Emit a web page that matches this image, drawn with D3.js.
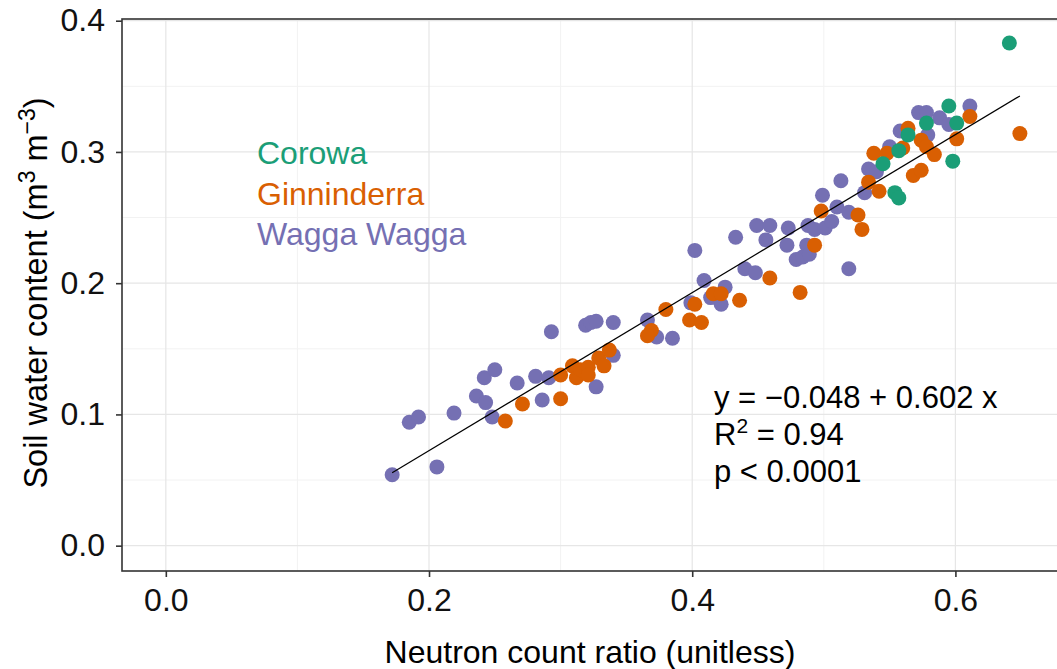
<!DOCTYPE html>
<html>
<head>
<meta charset="utf-8">
<script src="https://cdn.jsdelivr.net/npm/d3@7"></script>
<style>
  html, body { margin: 0; padding: 0; background: #ffffff; }
  svg text { font-family: "Liberation Sans", Arial, sans-serif; }
</style>
</head>
<body>
<svg id="chart" width="1057" height="669"></svg>
<script>
// ---- data (x = neutron count ratio, y = soil water content) ----
const wagga = [
  [0.172,0.054],[0.185,0.094],[0.192,0.098],[0.206,0.060],[0.219,0.101],[0.236,0.114],
  [0.243,0.109],[0.242,0.128],[0.250,0.134],[0.248,0.098],[0.267,0.124],[0.281,0.129],
  [0.291,0.128],[0.286,0.111],[0.293,0.163],[0.319,0.168],[0.323,0.170],[0.327,0.171],
  [0.340,0.170],[0.340,0.145],[0.327,0.121],
  [0.402,0.225],[0.433,0.235],[0.449,0.244],[0.459,0.244],[0.456,0.233],[0.440,0.211],
  [0.448,0.208],[0.409,0.202],[0.425,0.197],[0.414,0.189],[0.422,0.184],[0.399,0.185],
  [0.366,0.172],[0.373,0.159],[0.385,0.158],
  [0.513,0.278],[0.499,0.267],[0.510,0.258],[0.519,0.254],[0.531,0.269],[0.534,0.287],
  [0.473,0.242],[0.488,0.244],[0.493,0.241],[0.501,0.242],[0.506,0.247],[0.472,0.229],
  [0.487,0.229],[0.479,0.218],[0.484,0.220],[0.489,0.222],[0.519,0.211],
  [0.572,0.330],[0.578,0.330],[0.588,0.326],[0.595,0.321],[0.611,0.335],[0.558,0.316],
  [0.579,0.313],[0.550,0.304],[0.540,0.285]
];
const ginninderra = [
  [0.258,0.095],[0.271,0.108],[0.300,0.112],[0.300,0.130],[0.309,0.137],[0.312,0.128],
  [0.315,0.134],[0.321,0.136],[0.321,0.130],[0.329,0.143],[0.333,0.137],[0.337,0.149],
  [0.416,0.192],[0.422,0.192],[0.402,0.184],[0.380,0.180],[0.398,0.172],[0.407,0.170],
  [0.436,0.187],[0.459,0.204],[0.369,0.164],[0.366,0.160],
  [0.498,0.255],[0.526,0.252],[0.529,0.241],[0.493,0.229],[0.482,0.193],[0.534,0.277],
  [0.542,0.270],[0.538,0.299],[0.548,0.299],
  [0.611,0.327],[0.564,0.318],[0.574,0.309],[0.578,0.304],[0.584,0.298],[0.601,0.310],
  [0.560,0.303],[0.568,0.282],[0.574,0.286],[0.649,0.314]
];
const corowa = [
  [0.641,0.383],[0.545,0.291],[0.554,0.269],[0.557,0.265],[0.595,0.335],[0.578,0.322],
  [0.601,0.322],[0.564,0.313],[0.557,0.301],[0.598,0.293]
];
const siteNames = ["Corowa", "Ginninderra", "Wagga Wagga"];
const siteColors = ["#1b9e77", "#d95f02", "#7570b3"];
const fitIntercept = -0.048;
const fitSlope = 0.602;
const annotationLines = ["y = \u22120.048 + 0.602 x", "R2 = 0.94", "p < 0.0001"];
const xTicks = [0.0, 0.2, 0.4, 0.6];
const xMinor = [0.1, 0.3, 0.5];
const yTicks = [0.0, 0.1, 0.2, 0.3, 0.4];
const yMinor = [0.05, 0.15, 0.25, 0.35];

// ---- layout ----
const svg = d3.select("#chart");
const L = 122, T = 19, B = 571, R = 1062;
const x = d3.scaleLinear().domain([-0.0333, 0.681]).range([L, R]);
const y = d3.scaleLinear().domain([-0.0193, 0.4013]).range([B, T]);

svg.append("rect").attr("x", L).attr("y", T).attr("width", R - L).attr("height", B - T)
  .attr("fill", "#ffffff");

// grid
const g = svg.append("g");
g.selectAll(".xmin").data(xMinor).join("line")
  .attr("x1", d => x(d)).attr("x2", d => x(d)).attr("y1", T).attr("y2", B)
  .attr("stroke", "#f2f2f2").attr("stroke-width", 1);
g.selectAll(".ymin").data(yMinor).join("line")
  .attr("y1", d => y(d)).attr("y2", d => y(d)).attr("x1", L).attr("x2", R)
  .attr("stroke", "#f2f2f2").attr("stroke-width", 1);
g.selectAll(".xmaj").data(xTicks).join("line")
  .attr("x1", d => x(d)).attr("x2", d => x(d)).attr("y1", T).attr("y2", B)
  .attr("stroke", "#e6e6e6").attr("stroke-width", 1.2);
g.selectAll(".ymaj").data(yTicks).join("line")
  .attr("y1", d => y(d)).attr("y2", d => y(d)).attr("x1", L).attr("x2", R)
  .attr("stroke", "#e6e6e6").attr("stroke-width", 1.2);

// points
const groups = [
  {data: wagga, color: siteColors[2]},
  {data: ginninderra, color: siteColors[1]},
  {data: corowa, color: siteColors[0]}
];
groups.forEach(grp => {
  svg.append("g").selectAll("circle").data(grp.data).join("circle")
    .attr("cx", d => x(d[0])).attr("cy", d => y(d[1])).attr("r", 7.5)
    .attr("fill", grp.color);
});

// regression line
const allX = wagga.concat(ginninderra, corowa).map(d => d[0]);
const xr = d3.extent(allX);
svg.append("line")
  .attr("x1", x(xr[0])).attr("y1", y(fitIntercept + fitSlope * xr[0]))
  .attr("x2", x(xr[1])).attr("y2", y(fitIntercept + fitSlope * xr[1]))
  .attr("stroke", "#000").attr("stroke-width", 1.2);

// panel border
svg.append("rect").attr("x", L).attr("y", T).attr("width", R - L).attr("height", B - T)
  .attr("fill", "none").attr("stroke", "#333").attr("stroke-width", 1.6);

// axes
const xAxis = svg.append("g").attr("transform", `translate(0,${B})`)
  .call(d3.axisBottom(x).tickValues(xTicks).tickFormat(d3.format(".1f")).tickSize(6).tickPadding(11));
const yAxis = svg.append("g").attr("transform", `translate(${L},0)`)
  .call(d3.axisLeft(y).tickValues(yTicks).tickFormat(d3.format(".1f")).tickSize(6).tickPadding(11));
[xAxis, yAxis].forEach(a => {
  a.select(".domain").remove();
  a.selectAll(".tick line").attr("stroke", "#333").attr("stroke-width", 1.6);
  a.selectAll(".tick text").attr("fill", "#111").style("font-size", "32px")
    .style("font-family", "'Liberation Sans', Arial, sans-serif");
});

// axis titles
svg.append("text").attr("x", (L + R) / 2 - 2).attr("y", 663).attr("text-anchor", "middle")
  .style("font-size", "32px").attr("fill", "#000").text("Neutron count ratio (unitless)");
const yt = svg.append("text").attr("transform", `translate(47,${(T + B) / 2 - 2}) rotate(-90)`)
  .attr("text-anchor", "middle").style("font-size", "32.5px").attr("fill", "#000");
yt.append("tspan").text("Soil water content (m");
yt.append("tspan").attr("dy", -12).style("font-size", "23px").text("3");
yt.append("tspan").attr("dy", 12).text(" m");
yt.append("tspan").attr("dy", -12).style("font-size", "23px").text("\u22123");
yt.append("tspan").attr("dy", 12).text(")");

// legend labels
siteNames.forEach((n, i) => {
  svg.append("text").attr("x", 257).attr("y", 164 + i * 40.5)
    .style("font-size", "32px").attr("fill", siteColors[i]).text(n);
});

// annotation
const ann = svg.append("g");
ann.append("text").attr("x", 714).attr("y", 408).style("font-size", "31px").text(annotationLines[0]);
const r2 = ann.append("text").attr("x", 714).attr("y", 445).style("font-size", "31px");
r2.append("tspan").text("R");
r2.append("tspan").attr("dy", -12).style("font-size", "21px").text("2");
r2.append("tspan").attr("dy", 12).text(" = 0.94");
ann.append("text").attr("x", 714).attr("y", 482).style("font-size", "31px").text(annotationLines[2]);
</script>
</body>
</html>
